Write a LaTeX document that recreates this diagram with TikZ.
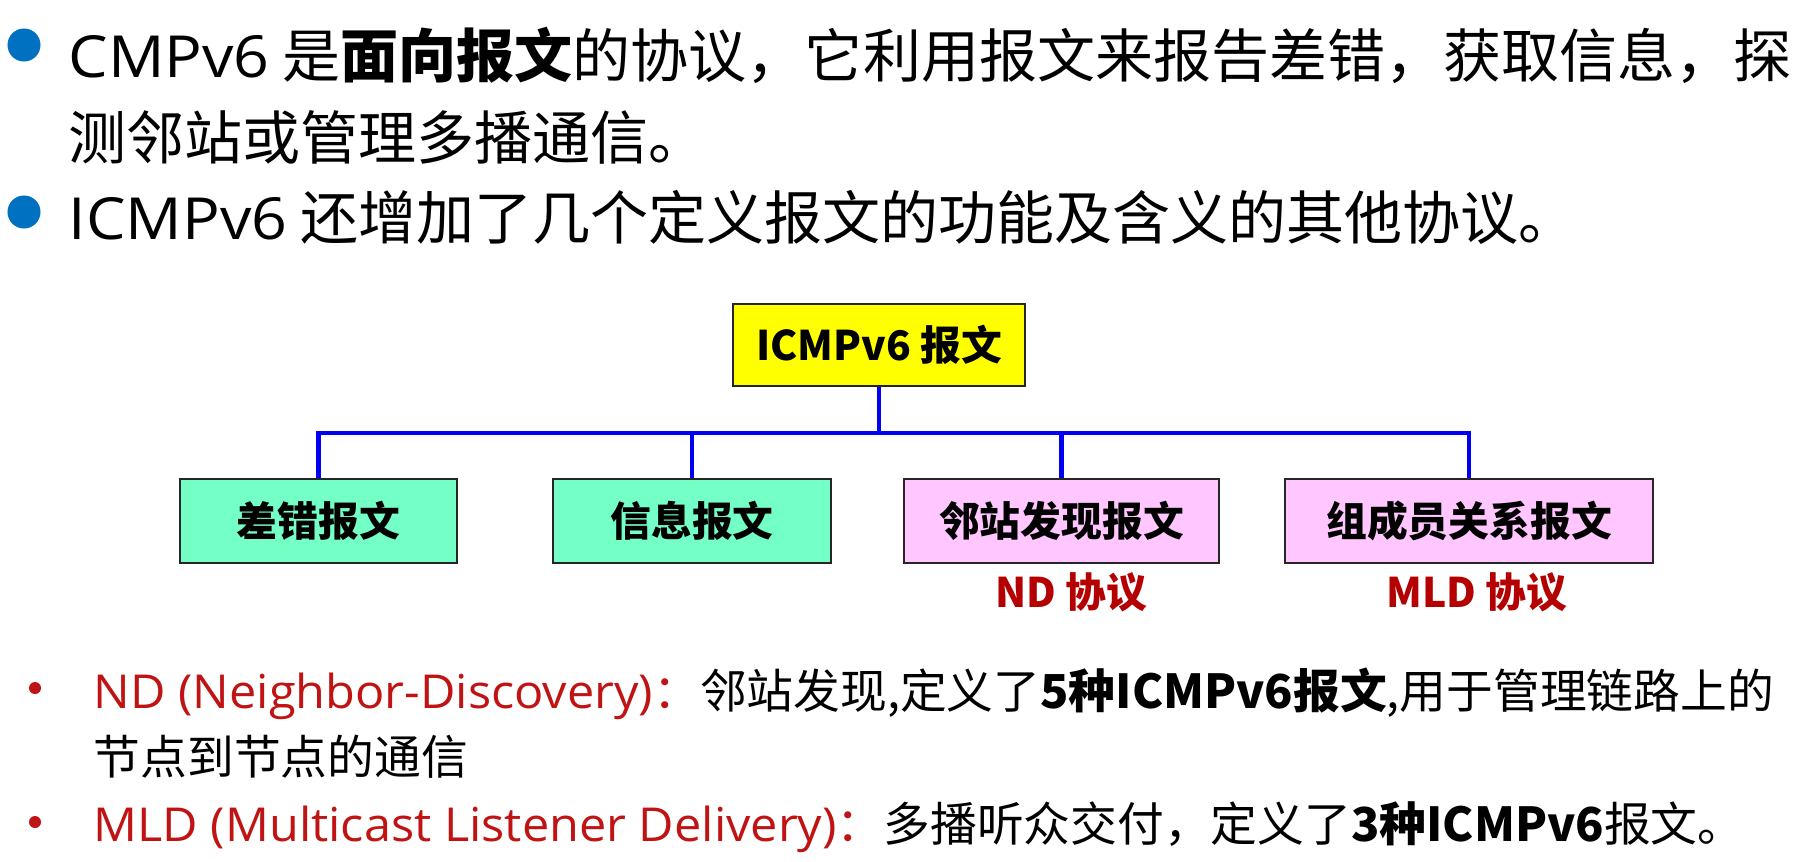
\documentclass[tikz,border=0pt]{standalone}
\usepackage{fontspec}
\setmainfont{Noto Sans CJK SC}
\newfontfamily\latin{Open Sans}
\usetikzlibrary{positioning}

\definecolor{rootyellow}{RGB}{255,255,0}
\definecolor{kindgreen}{RGB}{115,255,198}
\definecolor{protopink}{RGB}{255,198,255}
\definecolor{busblue}{RGB}{0,0,245}
\definecolor{tagred}{RGB}{180,0,0}
\definecolor{notered}{RGB}{192,20,20}
\definecolor{bulletblue}{RGB}{0,112,192}

% latin words, a little wider
\newcommand\wide[2]{\scalebox{#1}[1]{\latin #2}}

\begin{document}
\begin{tikzpicture}[
  x=0.01cm, y=-0.01cm,
  box/.style={rectangle, draw=black!85, line width=0.6pt, minimum height=0.84cm,
              inner sep=0pt, font=\fontsize{11.6}{14}\selectfont\bfseries},
  rootbox/.style={box, fill=rootyellow, minimum width=2.92cm, minimum height=0.82cm},
  kindbox/.style={box, fill=kindgreen},
  protobox/.style={box, fill=protopink},
  tag/.style={inner sep=0pt, font=\fontsize{11.6}{14}\selectfont\bfseries, text=tagred},
  bus/.style={draw=busblue, line width=1.3pt},
  bigline/.style={anchor=base west, inner sep=0pt, font=\fontsize{16.5}{20}\selectfont},
  noteline/.style={anchor=base west, inner sep=0pt, font=\fontsize{13.3}{16}\selectfont},
]
\path[use as bounding box, fill=white] (0,0) rectangle (1810,861);

% top bullets
\fill[bulletblue] (24,45) circle (0.165cm);
\fill[bulletblue] (24,212) circle (0.165cm);
\node[bigline] (l1) at (68,78) {\wide{1.08}{CMPv6} 是\textbf{面向报文}的协议，它利用报文来报告差错，获取信息，探};
\node[bigline] (l2) at (68,160) {测邻站或管理多播通信。};
\node[bigline] (l3) at (68,240) {\wide{1.08}{ICMPv6} 还增加了几个定义报文的功能及含义的其他协议。};

% tree
\node[rootbox] (root) at (879,345) {ICMPv6 报文};
\node[kindbox, minimum width=2.77cm] (err) at (318.5,521) {差错报文};
\node[kindbox, minimum width=2.78cm] (info) at (692,521) {信息报文};
\node[protobox, minimum width=3.15cm] (nd) at (1061.5,521) {邻站发现报文};
\node[protobox, minimum width=3.68cm] (mld) at (1469,521) {组成员关系报文};
\node[tag] (ndtag) at (1071,592) {ND 协议};
\node[tag] (mldtag) at (1477,592) {MLD 协议};

\coordinate (bar) at (0,433);
\draw[bus] (root.south) -- (root.south |- bar);
\draw[bus] (err.north) |- (mld.north |- bar) -- (mld.north);
\draw[bus] (info.north) -- (info.north |- bar);
\draw[bus] (nd.north) -- (nd.north |- bar);

% notes
\fill[notered] (35,688) circle (0.06cm);
\fill[notered] (35,822) circle (0.06cm);
\node[noteline] (n1) at (93,708) {\textcolor{notered}{\wide{1.04}{ND (Neighbor-Discovery)}：}邻站发现,定义了\textbf{5种ICMPv6报文},用于管理链路上的};
\node[noteline] (n2) at (93,774) {节点到节点的通信};
\node[noteline] (n3) at (93,841) {\textcolor{notered}{\wide{1.04}{MLD (Multicast Listener Delivery)}：}多播听众交付，定义了\textbf{3种ICMPv6}报文。};

\end{tikzpicture}
\end{document}
